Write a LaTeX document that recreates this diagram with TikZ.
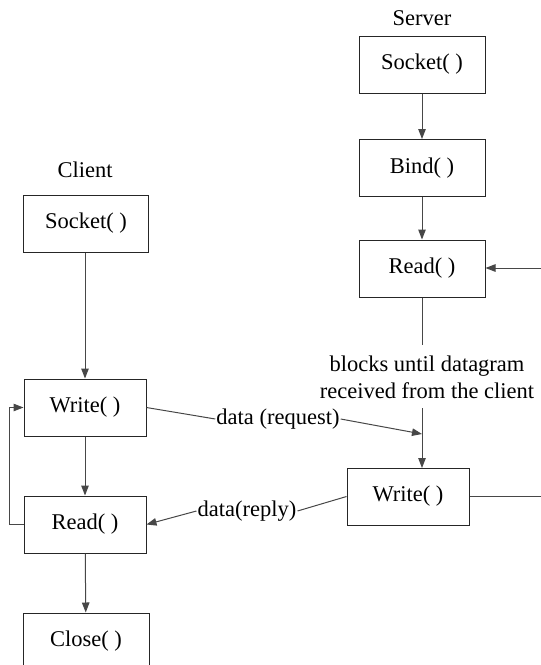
\documentclass[tikz,border=0pt]{standalone}
\usepackage{fontspec}
\setmainfont{Liberation Serif}
\usetikzlibrary{arrows.meta}
\begin{document}
\begin{tikzpicture}[x=1pt,y=-1pt,
  font=\rmfamily\fontsize{22.5}{27}\selectfont,
  line/.style={draw=black!72, line width=1pt},
  arr/.style={line, -{Triangle[length=10pt,width=7.5pt]}},
  box/.style={draw=black!85, line width=1pt, minimum height=57pt, inner sep=0pt},
  lbl/.style={inner sep=1pt}]
\useasboundingbox (0,0) rectangle (541,665);
\clip (0,0) rectangle (541,665);
% server
\node (srv) at (422,18) {Server};
\node[box, minimum width=126pt] (ssock) at (422,64.5) {Socket( )};
\node[box, minimum width=126pt] (sbind) at (422,168) {Bind( )};
\node[box, minimum width=126pt] (sread) at (422,268.5) {Read( )};
\node[align=center, inner sep=0pt, font=\rmfamily\fontsize{22.5}{27}\selectfont] (blk) at (427,377) {blocks until datagram\\received from the client};
\node[box, minimum width=122pt] (swrite) at (408,496.5) {Write( )};
\coordinate (rin) at (541,268);
\coordinate (rout) at (541,496.5);
\coordinate (hit) at (422,434);
% client
\node (cli) at (85,170) {Client};
\node[box, minimum width=125pt] (csock) at (86,223.5) {Socket( )};
\node[box, minimum width=122pt] (cwrite) at (85,407.5) {Write( )};
\node[box, minimum width=122pt] (cread) at (85,524.5) {Read( )};
\node[box, minimum width=126pt] (cclose) at (86,641.5) {Close( )};
\coordinate (lb) at (9,524.5);
\coordinate (lt) at (9,407.5);
% labels
\node[lbl] (req) at (278,419) {data (request)};
\node[lbl] (rep) at (247,511) {data(reply)};
% server arrows
\draw[arr] (ssock) -- (sbind);
\draw[arr] (sbind) -- (sread);
\draw[arr] (rin) -- (sread.east |- rin);
\draw[line] (sread.south) -- (422,345);
\draw[arr] (422,408) -- (422,468);
\draw[line] (swrite.east) -- (rout);
% client arrows
\draw[arr] (csock.south -| cwrite) -- (cwrite.north);
\draw[arr] (cwrite) -- (cread);
\draw[arr] (cread) -- (cclose);
\draw[arr] (cread.west) -- (lb) -- (lt) -- (cwrite.west);
% data
\draw[line] (cwrite.east) -- (req.west);
\draw[arr] (req.east) -- (hit);
\draw[line] (swrite.west) -- (rep.east);
\draw[arr] (rep.west) -- (cread.east);
\end{tikzpicture}
\end{document}
